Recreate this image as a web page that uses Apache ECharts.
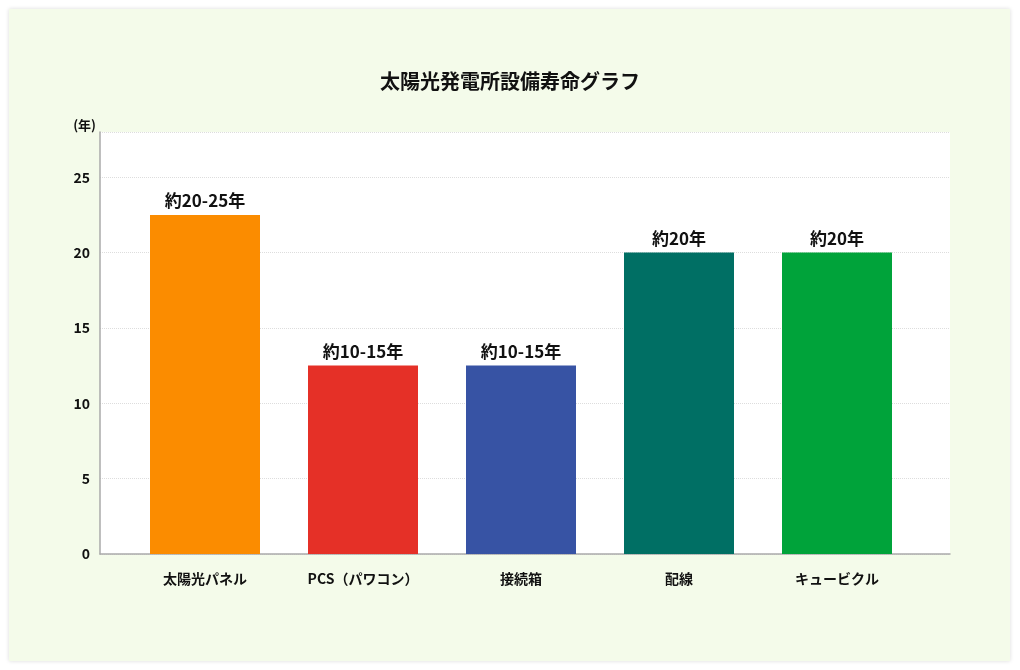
<!DOCTYPE html>
<html>
<head>
<meta charset="utf-8">
<script src="https://cdn.jsdelivr.net/npm/echarts@6/dist/echarts.min.js"></script>
<style>
  html, body { margin: 0; padding: 0; background: #fff; }
  #card { position: absolute; left: 9px; top: 9px; width: 1001px; height: 652px;
    background: #f4fbea; box-shadow: 0 0 4px rgba(0,0,0,0.15); }
  #main { position: absolute; left: 0; top: 0; width: 1020px; height: 670px; }
</style>
</head>
<body>
<div id="card"></div>
<div id="main"></div>
<script>
const categories = ['太陽光パネル', 'PCS（パワコン）', '接続箱', '配線', 'キュービクル'];
const lifeValues = [22.5, 12.5, 12.5, 20, 20];
const lifeLabels = ['約20-25年', '約10-15年', '約10-15年', '約20年', '約20年'];
const barColors = ['#fb8c00', '#e53027', '#3753a4', '#006f64', '#00a33a'];

const myChart = echarts.init(document.getElementById('main'));
const font = '"Noto Sans CJK JP", "Noto Sans", sans-serif';

const option = {
  textStyle: { fontFamily: font },
  title: {
    text: '太陽光発電所設備寿命グラフ',
    left: 'center',
    top: 66,
    textStyle: { fontSize: 20, fontWeight: 'bold', color: '#111', fontFamily: font },
  },
  grid: [
    { left: 100, right: 70, top: 132, bottom: 116, show: true, backgroundColor: '#fff', borderWidth: 0 },
    { left: 126, right: 104, top: 132, bottom: 116 },
  ],
  xAxis: [
    {
      gridIndex: 0, type: 'category', data: [''],
      axisLine: { lineStyle: { color: '#aaa', width: 1.5 } },
      axisTick: { show: false }, axisLabel: { show: false },
    },
    {
      gridIndex: 1, type: 'category', data: categories,
      axisLine: { show: false }, axisTick: { show: false },
      axisLabel: { margin: 18, fontSize: 14, fontWeight: 'bold', color: '#111', fontFamily: font },
    },
  ],
  yAxis: [
    {
      gridIndex: 0, type: 'value', min: 0, max: 28, interval: 5,
      name: '(年)', nameLocation: 'end', nameGap: 0,
      nameTextStyle: { fontSize: 13, fontWeight: 'bold', color: '#111', align: 'right', verticalAlign: 'bottom', padding: [0, 4, 0, 0] },
      axisLine: { show: true, lineStyle: { color: '#aaa', width: 1.5 } },
      axisTick: { show: false },
      axisLabel: { fontSize: 14, fontWeight: 'bold', color: '#111', margin: 10, fontFamily: font,
        formatter: (v) => (v % 5 === 0 ? v : '') },
      splitLine: { lineStyle: { color: '#ddd', type: 'dotted' } },
    },
    { gridIndex: 1, type: 'value', min: 0, max: 28, show: false, splitLine: { show: false } },
  ],
  series: [
    {
      type: 'bar', xAxisIndex: 1, yAxisIndex: 1, barWidth: 110,
      data: lifeValues.map((v, i) => ({ value: v, itemStyle: { color: barColors[i] } })),
      label: {
        show: true, position: 'top', distance: 6,
        fontSize: 17, fontWeight: 'bold', color: '#111', fontFamily: font,
        formatter: (p) => lifeLabels[p.dataIndex],
      },
    },
  ],
};

myChart.setOption(option);
</script>
</body>
</html>
